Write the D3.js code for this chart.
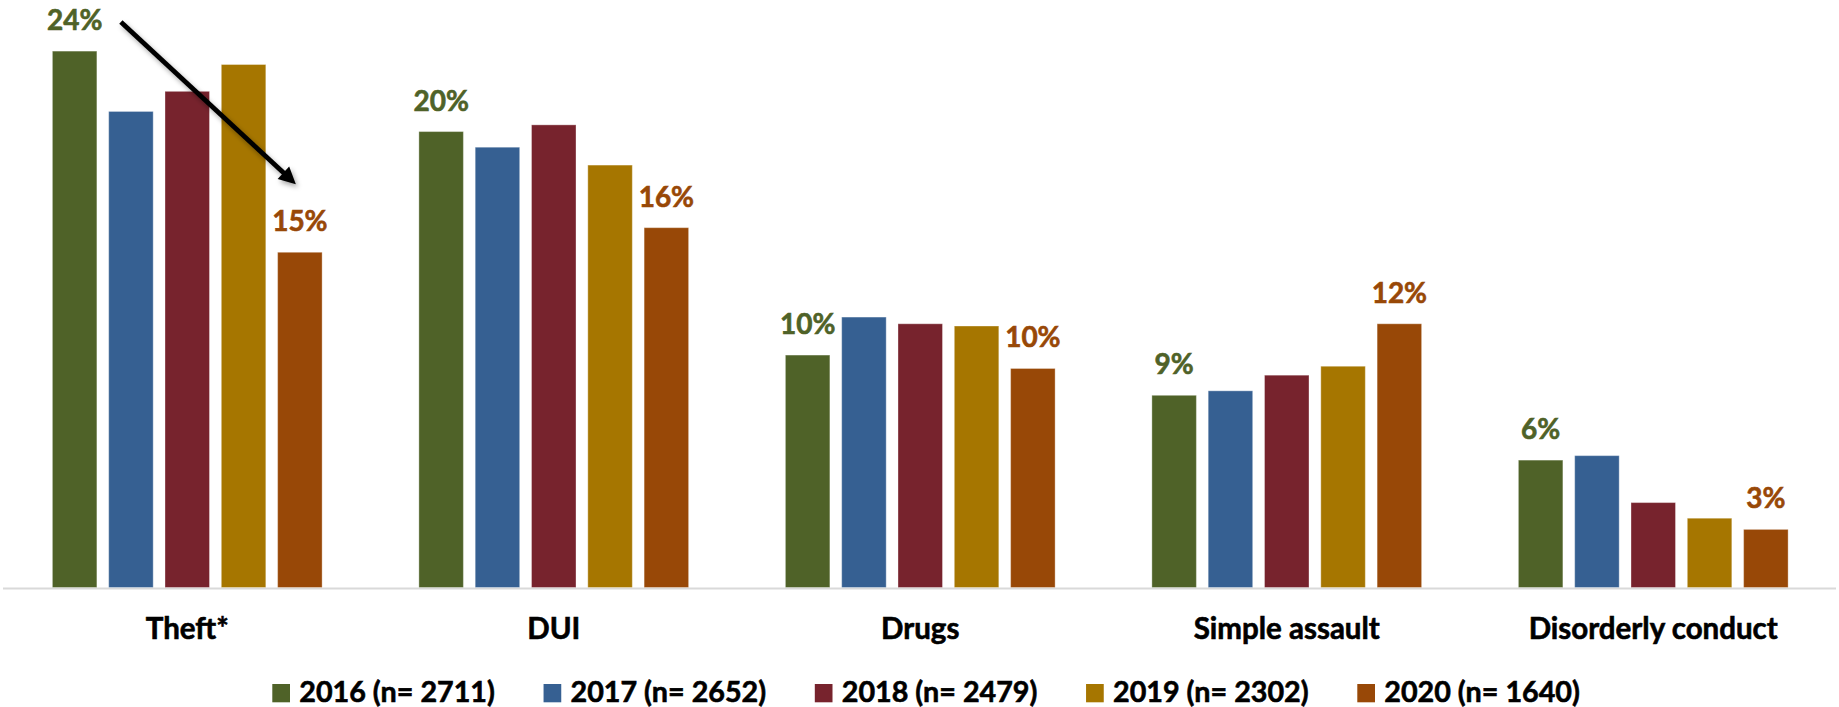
<!DOCTYPE html>
<html>
<head>
<meta charset="utf-8">
<script src="https://cdn.jsdelivr.net/npm/d3@7"></script>
<style>
  html, body { margin: 0; padding: 0; background: #ffffff; }
  svg { display: block; }
  text { font-family: Lato, "Open Sans", "Noto Sans", sans-serif; font-weight: 700; }
</style>
</head>
<body>
<svg id="chart" width="1839" height="707"></svg>
<script>
// ---- data ----
const categories = ["Theft*", "DUI", "Drugs", "Simple assault", "Disorderly conduct"];
const years = ["2016", "2017", "2018", "2019", "2020"];
const legendLabels = ["2016 (n= 2711)", "2017 (n= 2652)", "2018 (n= 2479)", "2019 (n= 2302)", "2020 (n= 1640)"];
const values2016 = [24.0, 20.4, 10.4, 8.6, 5.7];
const values2017 = [21.3, 19.7, 12.1, 8.8, 5.9];
const values2018 = [22.2, 20.7, 11.8, 9.5, 3.8];
const values2019 = [23.4, 18.9, 11.7, 9.9, 3.1];
const values2020 = [15.0, 16.1, 9.8, 11.8, 2.6];
const labelledYears = ["2016", "2020"];
const colors = ["#4F6228", "#366092", "#77232D", "#A67600", "#984807"];

const seriesValues = [values2016, values2017, values2018, values2019, values2020];
const rows = [];
categories.forEach((c, ci) => {
  years.forEach((yr, yi) => rows.push({ category: c, year: yr, value: seriesValues[yi][ci], color: colors[yi] }));
});

// ---- scales ----
const svg = d3.select("#chart");
const baseline = 587.5;
const x0 = d3.scaleBand().domain(categories).range([4, 1836.5]).paddingInner(0.264).paddingOuter(0.132);
const x1 = d3.scaleBand().domain(years).range([0, x0.bandwidth()]).paddingInner(0.2096);
const y = d3.scaleLinear().domain([0, 25]).range([baseline, baseline - 25 * 22.35]);
const fmt = v => d3.format(".0f")(v) + "%";

// ---- axis baseline ----
svg.append("line")
  .attr("x1", 3).attr("x2", 1836)
  .attr("y1", baseline + 1).attr("y2", baseline + 1)
  .attr("stroke", "#D9D9D9").attr("stroke-width", 2.2);

// ---- bars ----
svg.append("g").selectAll("rect").data(rows).join("rect")
  .attr("x", d => x0(d.category) + x1(d.year))
  .attr("y", d => y(d.value))
  .attr("width", x1.bandwidth())
  .attr("height", d => y(0) - y(d.value))
  .attr("fill", d => d.color)
  .attr("stroke", "rgba(255,255,255,0.35)")
  .attr("stroke-width", 1);

// ---- value labels ----
svg.append("g").selectAll("text").data(rows.filter(d => labelledYears.includes(d.year))).join("text")
  .attr("x", d => x0(d.category) + x1(d.year) + x1.bandwidth() / 2)
  .attr("y", d => y(d.value) - 21)
  .attr("text-anchor", "middle")
  .attr("font-size", 28)
  .attr("fill", d => d.color)
  .attr("stroke", d => d.color).attr("stroke-width", 0.6)
  .text(d => fmt(d.value));

// ---- category axis labels ----
svg.append("g").selectAll("text").data(categories).join("text")
  .attr("x", d => x0(d) + x0.bandwidth() / 2)
  .attr("y", 639)
  .attr("text-anchor", "middle")
  .attr("font-size", 29.5)
  .attr("fill", "#000")
  .attr("stroke", "#000").attr("stroke-width", 0.6)
  .text(d => d);

// ---- legend ----
const legendX = d3.scaleLinear().domain([0, 1]).range([272.3, 272.3 + 271.25]);
const lg = svg.append("g").selectAll("g").data(legendLabels).join("g")
  .attr("transform", (d, i) => `translate(${legendX(i)},684)`);
lg.append("rect").attr("width", 17.7).attr("height", 18.3).attr("fill", (d, i) => colors[i]);
lg.append("text").attr("x", 27).attr("y", 18.3)
  .attr("font-size", 28.7).attr("fill", "#000")
  .attr("stroke", "#000").attr("stroke-width", 0.6)
  .text(d => d);

// ---- annotation arrow (Theft 2016 -> 2020) ----
const defs = svg.append("defs");
const f = defs.append("filter").attr("id", "shadow").attr("x", "-20%").attr("y", "-20%").attr("width", "140%").attr("height", "140%");
f.append("feDropShadow").attr("dx", 2).attr("dy", 3).attr("stdDeviation", 2.5)
  .attr("flood-color", "#000").attr("flood-opacity", 0.35);

const ax1 = x0(categories[0]) + x1("2016") + x1.bandwidth() + 24;
const ay1 = y(values2016[0]) - 29;
const ax2 = x0(categories[0]) + x1("2020") + x1.bandwidth() / 2 - 4;
const ay2 = y(values2020[0]) - 68;
const ang = Math.atan2(ay2 - ay1, ax2 - ax1);
const headLen = 17, headHalf = 8.5;
const bx = ax2 - headLen * Math.cos(ang), by = ay2 - headLen * Math.sin(ang);
const arrow = svg.append("g").attr("filter", "url(#shadow)");
arrow.append("line")
  .attr("x1", ax1).attr("y1", ay1).attr("x2", bx + 2 * Math.cos(ang)).attr("y2", by + 2 * Math.sin(ang))
  .attr("stroke", "#000").attr("stroke-width", 4.8).attr("stroke-linecap", "butt");
arrow.append("path")
  .attr("d", `M${ax2},${ay2} L${bx - headHalf * Math.sin(ang)},${by + headHalf * Math.cos(ang)} L${bx + headHalf * Math.sin(ang)},${by - headHalf * Math.cos(ang)} Z`)
  .attr("fill", "#000");
</script>
</body>
</html>
